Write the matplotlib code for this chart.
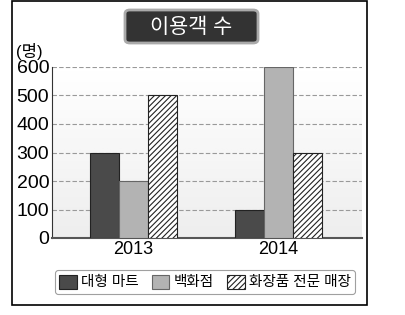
import matplotlib.pyplot as plt
import numpy as np
from matplotlib.patches import FancyBboxPatch, Rectangle

plt.rcParams['font.family'] = ['Liberation Sans', 'Noto Sans CJK KR', 'DejaVu Sans']
plt.rcParams['hatch.linewidth'] = 0.8

years = ['2013', '2014']
series = ['대형 마트', '백화점', '화장품 전문 매장']
mart = [300, 100]
dept = [200, 600]
cosmetics = [500, 300]

fig = plt.figure(figsize=(4.05, 3.15), dpi=100)
W, H = 405, 315

def fx(px):
    return px / W

def fy(py):
    return 1 - py / H

# outer frame
fig.patches.append(Rectangle((fx(12), fy(305)), fx(367) - fx(12), fy(1) - fy(305),
                             transform=fig.transFigure, fill=False, lw=1.2, ec='black'))

ax = fig.add_axes([fx(52), fy(238), fx(362) - fx(52), fy(67) - fy(238)])
ax.set_xlim(-0.562, 1.576)
ax.set_ylim(0, 600)

# gradient background
grad = np.linspace(0, 1, 100).reshape(-1, 1)
ax.imshow(grad, extent=[-0.562, 1.576, 0, 600], aspect='auto', cmap='Greys',
          vmin=0, vmax=7, origin='upper', zorder=0)

x = np.arange(len(years))
w = 0.2
ax.bar(x - w, mart, w, color='#4a4a4a', edgecolor='#222222', lw=0.8, zorder=3, label=series[0])
ax.bar(x, dept, w, color='#b3b3b3', edgecolor='#666666', lw=0.8, zorder=3, label=series[1])
ax.bar(x + w, cosmetics, w, color='white', edgecolor='#222222', lw=0.8, hatch='//////',
       zorder=3, label=series[2])

ax.set_yticks(range(0, 601, 100))
ax.yaxis.grid(True, ls=(0, (4, 2)), color='#999999', lw=0.8, zorder=1)
ax.set_xticks(x)
ax.set_xticklabels(years, fontsize=13)
ax.tick_params(axis='y', labelsize=14, length=0, pad=2)
ax.tick_params(axis='x', length=0, pad=2)
for s in ['top', 'right']:
    ax.spines[s].set_visible(False)
ax.spines['left'].set_color('#333333')
ax.spines['bottom'].set_color('#555555')
ax.spines['bottom'].set_linewidth(1.5)

fig.text(fx(29), fy(51), '(명)', ha='center', va='center', fontsize=12)

# title box
fig.patches.append(FancyBboxPatch((fx(125), fy(43)), fx(258) - fx(125), fy(10) - fy(43),
                                  boxstyle='round,pad=0,rounding_size=0.012',
                                  transform=fig.transFigure, fc='#333333', ec='#aaaaaa', lw=2))
fig.text(fx(191), fy(27), '이용객 수', ha='center', va='center', color='white', fontsize=15)

leg = fig.legend(loc='center', bbox_to_anchor=(fx(205), fy(282)), ncol=3, fontsize=10.5,
                 frameon=True, fancybox=True, edgecolor='#888888', handlelength=1.2,
                 handleheight=1.1, handletextpad=0.3, columnspacing=0.9, borderpad=0.3)
leg.get_frame().set_linewidth(0.8)

fig.savefig('out.png', dpi=100)
